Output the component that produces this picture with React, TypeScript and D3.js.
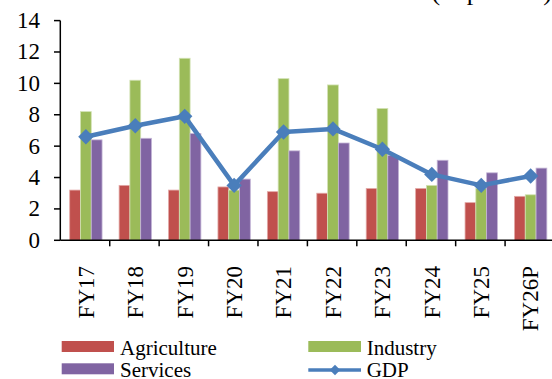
import React from "react";
import * as d3 from "d3";

// Sector growth rates by fiscal year (percent)
const years = ["FY17", "FY18", "FY19", "FY20", "FY21", "FY22", "FY23", "FY24", "FY25", "FY26P"];
const agriculture = [3.2, 3.5, 3.2, 3.4, 3.1, 3.0, 3.3, 3.3, 2.4, 2.8];
const industry = [8.2, 10.2, 11.6, 3.2, 10.3, 9.9, 8.4, 3.5, 3.3, 2.9];
const services = [6.4, 6.5, 6.8, 3.9, 5.7, 6.2, 5.4, 5.1, 4.3, 4.6];
const gdp = [6.6, 7.3, 7.9, 3.5, 6.9, 7.1, 5.8, 4.2, 3.5, 4.1];
const yTicks = [0, 2, 4, 6, 8, 10, 12, 14];

const seriesNames = ["Agriculture", "Industry", "Services"];
const seriesValues = [agriculture, industry, services];
const colors = ["#C0504D", "#9BBB59", "#8064A2"];
const edgeColors = ["#E3A9A7", "#D2E2B4", "#C3B5D6"];
const gdpColor = "#4A7EBB";

const W = 552;
const H = 379;
const FONT = "'Liberation Serif', 'Times New Roman', serif";

export default function App() {
  const x = d3.scaleBand<string>().domain(years).range([60.3, 554.5]).padding(0);
  const bw = x.bandwidth();
  const inner = d3
    .scaleBand<string>()
    .domain(seriesNames)
    .range([bw * 0.19, bw * 0.845])
    .padding(0);
  const y = d3.scaleLinear().domain([0, 14]).range([240.3, 20.6]);

  const diamond = d3.symbol().type(d3.symbolDiamond2).size(150);
  const line = d3
    .line<number>()
    .x((_, i) => (x(years[i]) as number) + inner("Industry")! + inner.bandwidth() / 2)
    .y((d) => y(d));

  return (
    <svg
      width={W}
      height={H}
      style={{ position: "absolute", left: 0, top: 0, background: "#fff" }}
      fontFamily={FONT}
    >
      <text x={552} y={0} textAnchor="end" fontSize={26} fill="#000">
        (in percent)
      </text>

      {/* bars */}
      {seriesValues.map((vals, s) =>
        vals.map((v, i) => (
          <rect
            key={`${s}-${i}`}
            x={(x(years[i]) as number) + inner(seriesNames[s])!}
            y={y(v)}
            width={inner.bandwidth()}
            height={y(0) - y(v)}
            fill={colors[s]}
            stroke={edgeColors[s]}
            strokeWidth={0.8}
          />
        ))
      )}

      {/* axes */}
      <line x1={60.3} x2={60.3} y1={y(14)} y2={y(0)} stroke="#000" strokeWidth={1.5} />
      {yTicks.map((t) => (
        <g key={t}>
          <line x1={54} x2={60.3} y1={y(t)} y2={y(t)} stroke="#000" strokeWidth={1.5} />
          <text
            x={40}
            y={y(t)}
            textAnchor="end"
            dominantBaseline="central"
            fontSize={23}
            fill="#000"
          >
            {t}
          </text>
        </g>
      ))}
      <line x1={60.3} x2={556} y1={y(0)} y2={y(0)} stroke="#000" strokeWidth={1.5} />
      {years.map((yr) => (
        <line
          key={yr}
          x1={(x(yr) as number) + bw}
          x2={(x(yr) as number) + bw}
          y1={y(0)}
          y2={y(0) + 6}
          stroke="#000"
          strokeWidth={1.5}
        />
      ))}
      {years.map((yr) => {
        const cx = (x(yr) as number) + bw / 2 + 1.2;
        return (
          <text
            key={yr}
            transform={`translate(${cx},266) rotate(-90)`}
            textAnchor="end"
            dominantBaseline="central"
            fontSize={23}
            fill="#000"
          >
            {yr}
          </text>
        );
      })}

      {/* GDP line */}
      <path d={line(gdp) || ""} fill="none" stroke={gdpColor} strokeWidth={4.5} strokeLinejoin="round" />
      {gdp.map((v, i) => (
        <path
          key={i}
          d={diamond() || ""}
          transform={`translate(${(x(years[i]) as number) + inner("Industry")! + inner.bandwidth() / 2},${y(v)})`}
          fill={gdpColor}
        />
      ))}

      {/* legend */}
      <g fontSize={21} fill="#000">
        <rect x={61.7} y={341} width={52.3} height={11} fill={colors[0]} />
        <text x={120} y={354.5}>Agriculture</text>
        <rect x={61.7} y={363.3} width={52.3} height={11} fill={colors[2]} />
        <text x={120} y={376.7}>Services</text>
        <rect x={308.3} y={341} width={52.7} height={11} fill={colors[1]} />
        <text x={366.7} y={354.5}>Industry</text>
        <line x1={308.3} x2={361} y1={370} y2={370} stroke={gdpColor} strokeWidth={3.5} />
        <path d={d3.symbol().type(d3.symbolDiamond2).size(70)() || ""} transform="translate(335,370)" fill={gdpColor} />
        <text x={366.7} y={376.7}>GDP</text>
      </g>
    </svg>
  );
}
